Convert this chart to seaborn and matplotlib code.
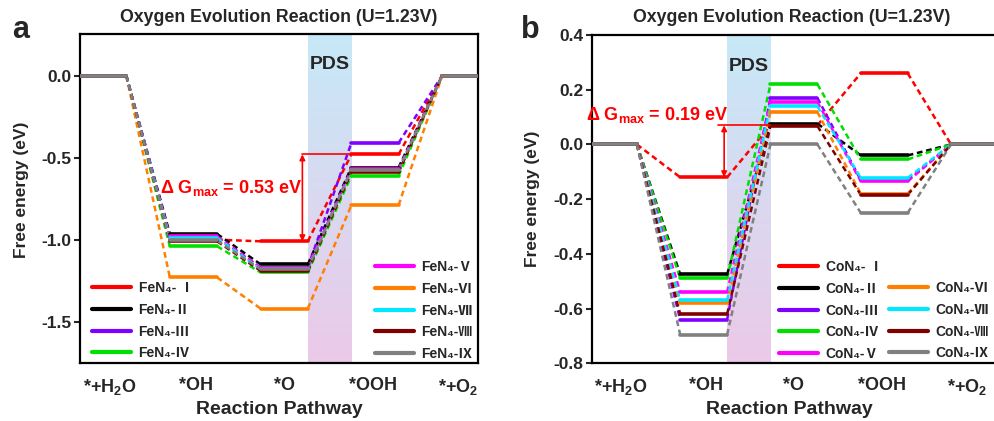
import numpy as np
import pandas as pd
import matplotlib
matplotlib.use("Agg")
import matplotlib.pyplot as plt
import seaborn as sns
from matplotlib.colors import LinearSegmentedColormap
from matplotlib.lines import Line2D
from matplotlib import font_manager as fm

# ---------------- data ----------------
steps = ["*+H$_2$O", "*OH", "*O", "*OOH", "*+O$_2$"]
fe_names = ["FeN₄- Ⅰ", "FeN₄-Ⅱ", "FeN₄-Ⅲ", "FeN₄-Ⅳ", "FeN₄-Ⅴ",
            "FeN₄-Ⅵ", "FeN₄-Ⅶ", "FeN₄-Ⅷ", "FeN₄-Ⅸ"]
co_names = ["CoN₄- Ⅰ", "CoN₄-Ⅱ", "CoN₄-Ⅲ", "CoN₄-Ⅳ", "CoN₄-Ⅴ",
            "CoN₄-Ⅵ", "CoN₄-Ⅶ", "CoN₄-Ⅷ", "CoN₄-Ⅸ"]
colors = ["#ff0000", "#000000", "#8000ff", "#00e000", "#ff00ff",
          "#ff8000", "#00e8ff", "#800000", "#808080"]

# FeN4 free energies: *+H2O, *OH, *O, *OOH, *+O2
fe_I = [0.0, -1.00, -1.01, -0.48, 0.0]
fe_II = [0.0, -0.965, -1.15, -0.56, 0.0]
fe_III = [0.0, -0.99, -1.17, -0.41, 0.0]
fe_IV = [0.0, -1.04, -1.20, -0.61, 0.0]
fe_V = [0.0, -0.98, -1.17, -0.57, 0.0]
fe_VI = [0.0, -1.23, -1.42, -0.79, 0.0]
fe_VII = [0.0, -0.99, -1.18, -0.58, 0.0]
fe_VIII = [0.0, -1.01, -1.19, -0.59, 0.0]
fe_IX = [0.0, -1.005, -1.18, -0.575, 0.0]

# CoN4 free energies
co_I = [0.0, -0.12, 0.07, 0.26, 0.0]
co_II = [0.0, -0.475, 0.076, -0.04, 0.0]
co_III = [0.0, -0.64, 0.17, -0.13, 0.0]
co_IV = [0.0, -0.49, 0.22, -0.055, 0.0]
co_V = [0.0, -0.54, 0.155, -0.135, 0.0]
co_VI = [0.0, -0.58, 0.118, -0.18, 0.0]
co_VII = [0.0, -0.57, 0.139, -0.122, 0.0]
co_VIII = [0.0, -0.62, 0.067, -0.184, 0.0]
co_IX = [0.0, -0.695, 0.0, -0.25, 0.0]

fe_dgmax = 0.53
co_dgmax = 0.19

# ---------------- style ----------------
sns.set_theme(style="ticks")
avail = {f.name for f in fm.fontManager.ttflist}
base = "Liberation Sans" if "Liberation Sans" in avail else "DejaVu Sans"
fam = [base, "DejaVu Sans", "Noto Sans CJK SC"]
legfam = [base, "Noto Sans CJK SC", "DejaVu Sans"]
plt.rcParams["font.family"] = fam
plt.rcParams["font.weight"] = "bold"
plt.rcParams["axes.labelweight"] = "bold"
plt.rcParams["mathtext.default"] = "regular"

W, H = 994, 421
fig = plt.figure(figsize=(W / 100, H / 100), dpi=100)

def fx(px):
    return px / W

def fy(py):
    return 1 - py / H

HW = 0.26  # half width of an energy level


def build(vals_list, names):
    lv, lk = [], []
    for name, vals in zip(names, vals_list):
        for i, v in enumerate(vals):
            lv.append((name, f"{name}|{i}", i - HW, v))
            lv.append((name, f"{name}|{i}", i + HW, v))
            if i < len(vals) - 1:
                lk.append((name, f"{name}|{i}", i + HW, v))
                lk.append((name, f"{name}|{i}", i + 1 - HW, vals[i + 1]))
    cols = ["series", "seg", "x", "y"]
    return pd.DataFrame(lv, columns=cols), pd.DataFrame(lk, columns=cols)


band_cmap = LinearSegmentedColormap.from_list("pds", ["#ecc9e8", "#c6e9f8"])


def panel(ax, vals_list, names, xlim, ylim, band, yticks, yfmt):
    pal = dict(zip(names, colors))
    grad = np.linspace(0, 1, 256).reshape(-1, 1)
    ax.imshow(grad, extent=[band[0], band[1], ylim[0], ylim[1]], aspect="auto",
              cmap=band_cmap, origin="lower", zorder=0)
    lv, lk = build(vals_list, names)
    n0 = len(ax.lines)
    sns.lineplot(data=lk, x="x", y="y", hue="series", units="seg", estimator=None,
                 sort=False, palette=pal, hue_order=names, lw=1.8,
                 legend=False, ax=ax, zorder=2)
    for ln in ax.lines[n0:]:
        ln.set_linestyle((0, (2.3, 1.5)))
    sns.lineplot(data=lv, x="x", y="y", hue="series", units="seg", estimator=None,
                 sort=False, palette=pal, hue_order=names, lw=2.6,
                 legend=False, ax=ax, zorder=3)
    ax.set_xlim(*xlim)
    ax.set_ylim(*ylim)
    ax.set_yticks(yticks)
    ax.set_yticklabels([yfmt.format(t) for t in yticks])
    ax.set_xticks([0.08, 1.03, 2.0, 2.98, 3.92])
    ax.set_xticklabels(steps, fontsize=13)
    ax.tick_params(axis="y", direction="out", length=4, width=1.5, labelsize=12.5, pad=2)
    ax.tick_params(axis="x", length=0, pad=10)
    for s in ax.spines.values():
        s.set_linewidth(1.6)
        s.set_color("black")
    ax.set_xlabel("")
    ax.set_ylabel("")


# left panel
axL = fig.add_axes([fx(80), fy(363), fx(478 - 80), (363 - 34) / H])
fe_all = [fe_I, fe_II, fe_III, fe_IV, fe_V, fe_VI, fe_VII, fe_VIII, fe_IX]
panel(axL, fe_all, fe_names, (-0.25, 4.135), (-1.752, 0.254), (2.26, 2.74),
      [-1.5, -1.0, -0.5, 0.0], "{:.1f}")

# right panel
axR = fig.add_axes([fx(591.7), fy(363.3), fx(998 - 591.7), (363.3 - 35) / H])
co_all = [co_I, co_II, co_III, co_IV, co_V, co_VI, co_VII, co_VIII, co_IX]
panel(axR, co_all, co_names, (-0.24, 4.26), (-0.8, 0.4), (1.26, 1.74),
      [-0.8, -0.6, -0.4, -0.2, 0.0, 0.2, 0.4], "{:.1f}")

# PDS labels
axL.text(2.5, 0.065, "PDS", ha="center", va="center", fontsize=14, fontweight="bold", zorder=5)
axR.text(1.5, 0.286, "PDS", ha="center", va="center", fontsize=14, fontweight="bold", zorder=5)

# Delta G max annotations
red = "#ff0000"
ax_ = axL
y0, y1 = fe_I[2], fe_I[3]
ax_.annotate("", xy=(2.2, y1), xytext=(2.2, y0),
             arrowprops=dict(arrowstyle="<|-|>", color=red, lw=1.2, mutation_scale=8,
                             shrinkA=0, shrinkB=0), zorder=6)
ax_.plot([2.2, 3 - HW], [y1, y1], color=red, lw=1.2, zorder=6)
ax_.text(1.42, -0.685, "Δ G$_{max}$ = " + f"{fe_dgmax:.2f} eV", color=red,
         ha="center", va="center", fontsize=13, fontweight="bold", zorder=6)

ax_ = axR
y0, y1 = co_I[1], co_I[2]
ax_.annotate("", xy=(1.227, y1), xytext=(1.227, y0),
             arrowprops=dict(arrowstyle="<|-|>", color=red, lw=1.2, mutation_scale=8,
                             shrinkA=0, shrinkB=0), zorder=6)
ax_.plot([1.16, 2 - HW], [y1, y1], color=red, lw=1.2, zorder=6)
ax_.text(0.485, 0.106, "Δ G$_{max}$ = " + f"{co_dgmax:.2f} eV", color=red,
         ha="center", va="center", fontsize=13, fontweight="bold", zorder=6)

# legends
def handles(idx, names):
    return [Line2D([0], [0], color=colors[i], lw=3) for i in idx], [names[i] for i in idx]

leg_kw = dict(frameon=False, handlelength=2.8, handletextpad=0.55,
              labelspacing=0.56, borderpad=0, borderaxespad=0,
              prop={"family": legfam, "weight": "bold", "size": 10})

h, l = handles(range(0, 4), fe_names)
lg1 = axL.legend(h, l, loc="upper left", bbox_to_anchor=(fx(92), fy(281)),
                 bbox_transform=fig.transFigure, **leg_kw)
axL.add_artist(lg1)
h, l = handles(range(4, 9), fe_names)
axL.legend(h, l, loc="upper left", bbox_to_anchor=(fx(375), fy(260)),
           bbox_transform=fig.transFigure, **leg_kw)

h, l = handles(range(0, 5), co_names)
lg3 = axR.legend(h, l, loc="upper left", bbox_to_anchor=(fx(779), fy(260)),
                 bbox_transform=fig.transFigure, **leg_kw)
axR.add_artist(lg3)
h, l = handles(range(5, 9), co_names)
axR.legend(h, l, loc="upper left", bbox_to_anchor=(fx(889), fy(281)),
           bbox_transform=fig.transFigure, **leg_kw)

# titles, labels
for cx in (279, 792):
    fig.text(fx(cx), fy(17), "Oxygen Evolution Reaction (U=1.23V)", ha="center", va="center",
             fontsize=12.8, fontweight="bold")
for cx in (279, 789):
    fig.text(fx(cx), fy(409), "Reaction Pathway", ha="center", va="center",
             fontsize=14, fontweight="bold")
fig.text(fx(22), fy(190), "Free energy (eV)", ha="center", va="center", rotation=90,
         fontsize=12.5, fontweight="bold")
fig.text(fx(532), fy(199), "Free energy (eV)", ha="center", va="center", rotation=90,
         fontsize=12.5, fontweight="bold")
fig.text(fx(21), fy(30), "a", ha="center", va="center", fontsize=22, fontweight="bold")
fig.text(fx(530), fy(30), "b", ha="center", va="center", fontsize=22, fontweight="bold")

fig.savefig("out.png", dpi=100)
